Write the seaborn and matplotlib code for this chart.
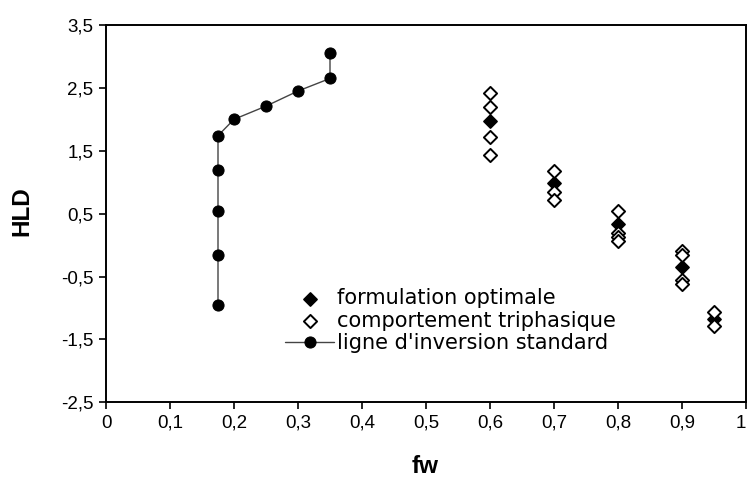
import numpy as np
import pandas as pd
import seaborn as sns
import matplotlib.pyplot as plt

# values
fw_opt = [0.6, 0.7, 0.8, 0.9, 0.95]
hld_opt = [1.97, 0.98, 0.33, -0.35, -1.18]

fw_tri = [0.6, 0.6, 0.6, 0.6,
          0.7, 0.7, 0.7,
          0.8, 0.8, 0.8, 0.8,
          0.9, 0.9, 0.9, 0.9,
          0.95, 0.95]
hld_tri = [2.42, 2.2, 1.72, 1.43,
           1.18, 0.85, 0.72,
           0.55, 0.2, 0.13, 0.06,
           -0.09, -0.15, -0.55, -0.62,
           -1.07, -1.28]

fw_inv = [0.175, 0.175, 0.175, 0.175, 0.175, 0.2, 0.25, 0.3, 0.35, 0.35]
hld_inv = [-0.96, -0.15, 0.55, 1.19, 1.74, 2.0, 2.21, 2.45, 2.65, 3.05]

x_ticks = [0, 0.1, 0.2, 0.3, 0.4, 0.5, 0.6, 0.7, 0.8, 0.9, 1]
x_labels = ['0', '0,1', '0,2', '0,3', '0,4', '0,5', '0,6', '0,7', '0,8', '0,9', '1']
y_ticks = [-2.5, -1.5, -0.5, 0.5, 1.5, 2.5, 3.5]
y_labels = ['-2,5', '-1,5', '-0,5', '0,5', '1,5', '2,5', '3,5']

lab_opt = 'formulation optimale'
lab_tri = 'comportement triphasique'
lab_inv = "ligne d'inversion standard"

sns.set_style('white')
plt.rcParams['font.family'] = ['Liberation Sans', 'DejaVu Sans']
plt.rcParams['text.color'] = 'black'
plt.rcParams['axes.labelcolor'] = 'black'

fig = plt.figure(figsize=(7.48, 4.8), dpi=100)
ax = fig.add_axes([106 / 748, 1 - 402.3 / 480, 640 / 748, 377.3 / 480])

df_inv = pd.DataFrame({'fw': fw_inv, 'HLD': hld_inv})
df_opt = pd.DataFrame({'fw': fw_opt, 'HLD': hld_opt})
df_tri = pd.DataFrame({'fw': fw_tri, 'HLD': hld_tri})

sns.lineplot(data=df_inv, x='fw', y='HLD', sort=False, estimator=None,
             color='#444444', linewidth=1.0, marker='o', markersize=8,
             markerfacecolor='black', markeredgecolor='black',
             label=lab_inv, ax=ax, zorder=2)
sns.scatterplot(data=df_opt, x='fw', y='HLD', marker='D', color='black',
                edgecolor='black', s=45, linewidth=1.2, label=lab_opt,
                ax=ax, zorder=3)
sns.scatterplot(data=df_tri, x='fw', y='HLD', marker='D', color='white',
                edgecolor='black', s=45, linewidth=1.4, label=lab_tri,
                ax=ax, zorder=4)

ax.set_xlim(0, 1)
ax.set_ylim(-2.5, 3.5)
ax.set_xticks(x_ticks)
ax.set_xticklabels(x_labels)
ax.set_yticks(y_ticks)
ax.set_yticklabels(y_labels)
ax.tick_params(axis='both', direction='out', length=5, width=1.2,
               labelsize=13.5, color='black', labelcolor='black', pad=4,
               bottom=True, left=True)
# last label sits on the figure edge, keep it inside
ax.get_xticklabels()[-1].set_horizontalalignment('right')
for sp in ax.spines.values():
    sp.set_color('black')
    sp.set_linewidth(1.4)

ax.set_xlabel('fw', fontsize=17.5, fontweight='bold', color='black')
ax.set_ylabel('HLD', fontsize=17.5, fontweight='bold', color='black')
ax.xaxis.set_label_coords(0.498, -0.14)
ax.yaxis.set_label_coords(-0.114, 0.508)

# the legend text in the original is rendered wide, DejaVu gets closer
handles, labels = ax.get_legend_handles_labels()
order = [labels.index(lab_opt), labels.index(lab_tri), labels.index(lab_inv)]
ax.legend([handles[i] for i in order], [labels[i] for i in order],
          loc='upper left', bbox_to_anchor=(0.28, 0.302), frameon=False,
          prop={'family': 'DejaVu Sans', 'size': 15}, labelcolor='black',
          handlelength=2.35, handletextpad=0.15,
          labelspacing=0.12, borderpad=0, borderaxespad=0)

plt.savefig('out.png', dpi=100)
